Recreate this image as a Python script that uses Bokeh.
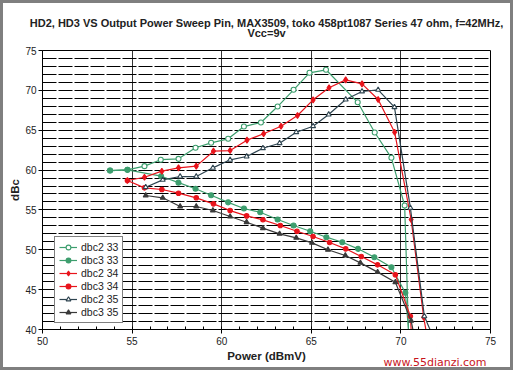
from bokeh.plotting import figure
from bokeh.models import SingleIntervalTicker, Legend, LegendItem, Title
from bokeh.embed import file_html
from bokeh.resources import INLINE

title_line1 = "HD2, HD3 VS Output Power Sweep Pin, MAX3509, toko 458pt1087 Series 47 ohm, f=42MHz,"
title_line2 = "Vcc=9v"
x_label = "Power (dBmV)"
y_label = "dBc"
watermark = "www.55dianzi.com"

dbc2_33_x = [53.77, 54.74, 55.69, 56.6, 57.59, 58.54, 59.41, 60.36, 61.24, 62.19, 63.12, 64.01, 64.9, 65.82, 67.59, 68.54, 69.47, 70.21, 70.45]
dbc2_33_y = [59.94, 60.03, 60.49, 61.3, 61.41, 62.8, 63.42, 63.92, 65.46, 65.97, 67.97, 70.07, 72.2, 72.58, 68.5, 64.71, 61.54, 55.55, 38.0]

dbc3_33_x = [53.77, 54.74, 56.62, 57.59, 58.54, 59.41, 60.36, 61.24, 62.15, 63.12, 64.01, 64.94, 65.84, 66.73, 67.61, 68.52, 69.47, 70.25, 70.5]
dbc3_33_y = [59.94, 60.03, 59.23, 58.42, 57.65, 56.85, 55.95, 55.18, 54.71, 53.8, 53.04, 52.33, 51.58, 50.95, 50.12, 49.07, 47.8, 44.6, 38.0]

dbc2_34_x = [54.74, 55.69, 56.66, 57.59, 58.58, 59.54, 60.47, 61.41, 62.34, 63.31, 64.23, 65.1, 65.99, 66.92, 67.83, 68.73, 69.65, 70.57, 71.27, 71.55]
dbc2_34_y = [58.69, 59.1, 59.86, 60.28, 60.49, 62.37, 62.45, 63.75, 64.55, 65.5, 66.84, 68.81, 70.32, 71.32, 70.82, 68.85, 64.75, 53.8, 41.54, 38.0]

dbc3_34_x = [54.74, 55.69, 56.66, 57.59, 58.58, 59.54, 60.47, 61.39, 62.3, 63.27, 64.2, 65.1, 66.02, 66.92, 67.79, 68.7, 69.69, 70.53, 70.62]
dbc3_34_y = [58.69, 57.77, 57.56, 57.1, 56.52, 55.76, 54.92, 54.25, 53.76, 53.04, 52.33, 51.66, 50.91, 50.12, 49.15, 48.11, 46.86, 41.66, 38.0]

dbc2_35_x = [55.76, 56.71, 57.68, 58.58, 59.51, 60.47, 61.39, 62.3, 63.23, 64.16, 65.1, 65.97, 66.92, 67.83, 68.73, 69.64, 70.53, 71.31, 72.0]
dbc2_35_y = [57.85, 58.77, 59.19, 59.19, 60.28, 61.29, 61.7, 62.74, 63.37, 64.75, 65.5, 66.97, 68.85, 69.86, 70.07, 67.89, 55.26, 41.66, 38.0]

dbc3_35_x = [55.76, 56.71, 57.68, 58.58, 59.51, 60.47, 61.39, 62.3, 63.23, 64.16, 65.04, 65.93, 66.9, 67.74, 68.7, 69.69, 70.57, 70.85]
dbc3_35_y = [56.81, 56.52, 55.43, 55.43, 54.93, 54.17, 53.46, 52.71, 52.0, 51.5, 50.87, 50.0, 49.28, 48.36, 47.2, 45.93, 41.1, 38.0]

series_names = ["dbc2 33", "dbc3 33", "dbc2 34", "dbc3 34", "dbc2 35", "dbc3 35"]

GREEN = "#3d9e6e"
RED = "#e8141c"
SLATE = "#2e4450"
GRAY = "#3a3a3a"

FONT = "Liberation Sans"

# 513x370 canvas + 3px CSS border = 519x376 page
p = figure(width=513, height=370, x_range=(50, 75), y_range=(40, 75),
           output_backend="svg", toolbar_location=None,
           min_border_left=39, min_border_right=26, min_border_top=47, min_border_bottom=44)
p.styles = {"border": "3px solid #7f7f7f"}
p.background_fill_color = "white"
p.border_fill_color = "white"
p.outline_line_color = "black"
p.outline_line_width = 1

# axes
p.xaxis.ticker = SingleIntervalTicker(interval=5, num_minor_ticks=5)
p.yaxis.ticker = SingleIntervalTicker(interval=5, num_minor_ticks=0)
for ax in (p.xaxis[0], p.yaxis[0]):
    ax.axis_line_color = "black"
    ax.major_tick_line_color = "black"
    ax.major_tick_out = 4
    ax.major_tick_in = 0
    ax.major_label_text_font = FONT
    ax.major_label_text_font_size = "10px"
    ax.major_label_text_color = "#222222"
    ax.axis_label_text_font = FONT
    ax.axis_label_text_font_size = "11.5px"
    ax.axis_label_text_font_style = "bold"
    ax.axis_label_text_color = "#222222"
p.xaxis.minor_tick_in = 3
p.xaxis.minor_tick_out = 0
p.xaxis.minor_tick_line_color = "black"
p.yaxis.minor_tick_line_color = None
p.xaxis.major_label_standoff = 3
p.yaxis.major_label_standoff = 2
p.xaxis.axis_label = x_label
p.yaxis.axis_label = y_label
p.xaxis.axis_label_standoff = 2
p.yaxis.axis_label_standoff = 1

# grids
p.xgrid.ticker = SingleIntervalTicker(interval=5)
p.xgrid.grid_line_color = "#333333"
p.xgrid.grid_line_width = 1
p.ygrid.ticker = SingleIntervalTicker(interval=1)
p.ygrid.grid_line_color = "black"
p.ygrid.grid_line_width = 1
p.ygrid.grid_line_dash = "14 2"

specs = [
    (dbc2_33_x, dbc2_33_y, GREEN, "circle", False, 5),
    (dbc3_33_x, dbc3_33_y, GREEN, "circle", True, 5),
    (dbc2_34_x, dbc2_34_y, RED, "diamond", True, 6),
    (dbc3_34_x, dbc3_34_y, RED, "circle", True, 4.5),
    (dbc2_35_x, dbc2_35_y, SLATE, "triangle", False, 5),
    (dbc3_35_x, dbc3_35_y, GRAY, "triangle", True, 5),
]

items = []
for name, (xs, ys, col, mk, filled, sz) in zip(series_names, specs):
    ln = p.line(xs, ys, line_color=col, line_width=1.2)
    sc = p.scatter(xs, ys, marker=mk, size=sz, line_color=col, line_width=1.1,
                   fill_color=col if filled else "white")
    items.append(LegendItem(label=name, renderers=[ln, sc]))

legend = Legend(items=items, location=(12, 6), orientation="vertical",
                label_text_font=FONT, label_text_font_size="10.5px", label_text_color="#222222",
                label_height=12, glyph_height=12, glyph_width=18, label_standoff=4,
                spacing=1, padding=4, margin=0,
                border_line_color="black", border_line_width=1,
                background_fill_color="white", background_fill_alpha=1.0)
p.add_layout(legend, "center")

# two-line title: second line added first so it sits nearest the plot
t2 = Title(text=title_line2, align="center", text_font=FONT, text_font_size="11px",
           text_font_style="bold", text_color="#222222", standoff=23, offset=0)
t1 = Title(text=title_line1, align="center", text_font=FONT, text_font_size="11px",
           text_font_style="bold", text_color="#222222", standoff=-31, offset=0)
p.add_layout(t2, "above")
p.add_layout(t1, "above")

# watermark at bottom right, tucked under the axis label
wm = Title(text=watermark, align="right", vertical_align="top", text_font="DejaVu Sans",
           text_font_size="11px", text_font_style="normal", text_color="#c8141c",
           standoff=-17, offset=4)
p.add_layout(wm, "below")

open("out.html", "w").write(file_html(p, INLINE))
